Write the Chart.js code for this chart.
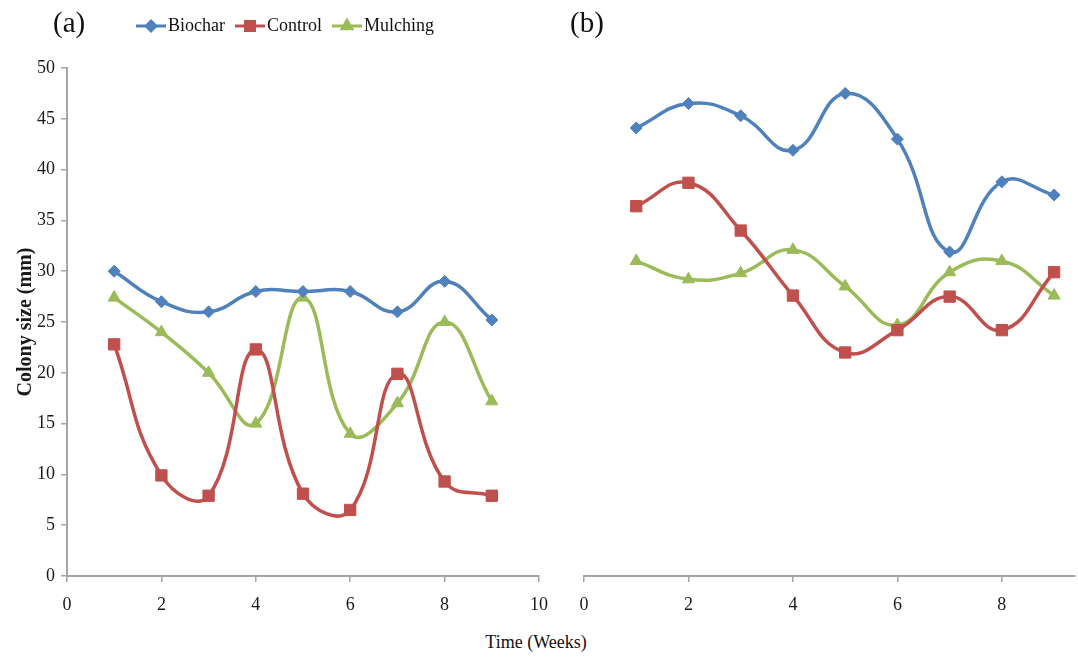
<!DOCTYPE html>
<html>
<head>
<meta charset="utf-8">
<script src="https://cdn.jsdelivr.net/npm/chart.js@4/dist/chart.umd.min.js"></script>
<style>
  body { margin: 0; background: #fff; width: 1078px; height: 658px; position: relative; overflow: hidden; font-family: "Liberation Serif", serif; color: #111; }
  #chartA { position: absolute; left: 0; top: 0; }
  #chartB { position: absolute; left: 560px; top: 0; }
  .tag { position: absolute; top: 6px; font-size: 29px; }
  #legend { position: absolute; left: 136px; top: 15px; display: flex; align-items: center; font-size: 18px; }
  #legend .item { display: flex; align-items: center; margin-right: 10px; }
  #legend canvas { margin-right: 2px; }
  #xtitle { position: absolute; left: 0; width: 1072px; top: 632px; text-align: center; font-size: 18px; }
</style>
</head>
<body>
<canvas id="chartA" width="560" height="620"></canvas>
<canvas id="chartB" width="518" height="620"></canvas>
<div class="tag" style="left:53px">(a)</div>
<div class="tag" style="left:570px">(b)</div>
<div id="legend"></div>
<div id="xtitle">Time (Weeks)</div>
<script>
// Data.
const weeks = [1, 2, 3, 4, 5, 6, 7, 8, 9];

const biocharA = [30, 27, 26, 28, 28, 28, 26, 29, 25.2];
const controlA = [22.8, 9.9, 7.9, 22.3, 8.1, 6.5, 19.9, 9.3, 7.9];
const mulchingA = [27.4, 24, 20, 15, 27.4, 14, 17, 25, 17.2];

const biocharB = [44.1, 46.5, 45.3, 41.9, 47.5, 43, 31.9, 38.8, 37.5];
const controlB = [36.4, 38.7, 34, 27.6, 22, 24.2, 27.5, 24.2, 29.9];
const mulchingB = [31, 29.2, 29.8, 32.1, 28.5, 24.7, 29.9, 31, 27.6];

const xTicksA = [0, 2, 4, 6, 8, 10];
const xTicksB = [0, 2, 4, 6, 8];
const yTicks = [0, 5, 10, 15, 20, 25, 30, 35, 40, 45, 50];

// Series look (Excel-ish colours).
const series = [
  { label: "Biochar", color: "#4F81BD", style: "rectRot", radius: 6 },
  { label: "Control", color: "#C0504D", style: "rect", radius: 8 },
  { label: "Mulching", color: "#9BBB59", style: "triangle", radius: 7 },
];

const axisColor = "#a6a6a6";
const tickFont = { family: "Liberation Serif", size: 18 };

const makeDatasets = (valuesList) =>
  valuesList.map((values, i) => ({
    label: series[i].label,
    data: weeks.map((w, j) => ({ x: w, y: values[j] })),
    borderColor: series[i].color,
    backgroundColor: series[i].color,
    borderWidth: 3.5,
    pointStyle: series[i].style,
    pointRadius: series[i].radius,
    pointBorderWidth: 1,
    tension: 0.45,
  }));

const xAxis = (max, tickList) => ({
  type: "linear",
  min: 0,
  max: max,
  afterBuildTicks: (scale) => {
    scale.ticks = tickList.map((v) => ({ value: v }));
  },
  afterFit: (scale) => {
    scale.height = 40;
  },
  grid: { drawOnChartArea: false, color: axisColor, tickLength: 6, lineWidth: 1.5 },
  border: { color: axisColor, width: 2 },
  ticks: { color: "#1a1a1a", font: tickFont, padding: 12 },
});

// Panel (a)
new Chart(document.getElementById("chartA"), {
  type: "line",
  data: { datasets: makeDatasets([biocharA, controlA, mulchingA]) },
  options: {
    responsive: false,
    animation: false,
    layout: { autoPadding: false, padding: { top: 68, right: 19, bottom: 4, left: 0 } },
    plugins: { legend: { display: false }, tooltip: { enabled: false } },
    scales: {
      x: xAxis(10, xTicksA),
      y: {
        min: 0,
        max: 50,
        afterBuildTicks: (scale) => {
          scale.ticks = yTicks.map((v) => ({ value: v }));
        },
        afterFit: (scale) => {
          scale.width = 67;
        },
        grid: { drawOnChartArea: false, color: axisColor, tickLength: 6, lineWidth: 1.5 },
        border: { color: axisColor, width: 2 },
        ticks: { color: "#1a1a1a", font: tickFont, padding: 6 },
        title: {
          display: true,
          text: "Colony size (mm)",
          color: "#1a1a1a",
          font: { family: "Liberation Serif", size: 20, weight: "bold" },
          padding: { top: 14, bottom: 0 },
        },
      },
    },
  },
});

// Panel (b) - same y range, no visible y axis
new Chart(document.getElementById("chartB"), {
  type: "line",
  data: { datasets: makeDatasets([biocharB, controlB, mulchingB]) },
  options: {
    responsive: false,
    animation: false,
    layout: { autoPadding: false, padding: { top: 68, right: 3, bottom: 4, left: 24 } },
    plugins: { legend: { display: false }, tooltip: { enabled: false } },
    scales: {
      x: xAxis(9.4, xTicksB),
      y: { display: false, min: 0, max: 50 },
    },
  },
});

// Legend with line + marker icons.
const legend = document.getElementById("legend");
series.forEach((s) => {
  const item = document.createElement("div");
  item.className = "item";
  const icon = document.createElement("canvas");
  icon.width = 30;
  icon.height = 16;
  const g = icon.getContext("2d");
  g.strokeStyle = s.color;
  g.fillStyle = s.color;
  g.lineWidth = 3;
  g.beginPath();
  g.moveTo(0, 8);
  g.lineTo(30, 8);
  g.stroke();
  Chart.helpers.drawPoint(g, { pointStyle: s.style, radius: s.radius * 0.8, borderWidth: 1 }, 15, 8);
  g.fill();
  const text = document.createElement("span");
  text.textContent = s.label;
  item.appendChild(icon);
  item.appendChild(text);
  legend.appendChild(item);
});
</script>
</body>
</html>
